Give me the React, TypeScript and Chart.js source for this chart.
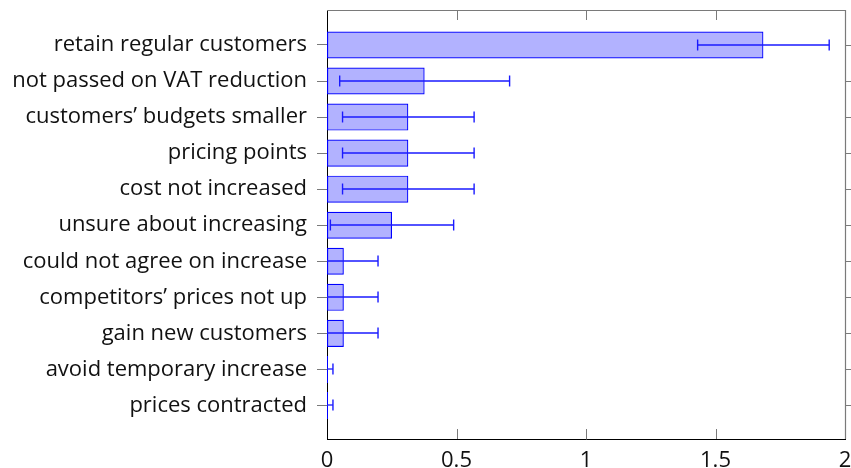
import { useEffect, useRef } from 'react';
import { Chart, registerables } from 'chart.js';

Chart.register(...registerables);

// Reasons given for not raising prices: mean score with its error margin
const categories = [
  'retain regular customers',
  'not passed on VAT reduction',
  'customers’ budgets smaller',
  'pricing points',
  'cost not increased',
  'unsure about increasing',
  'could not agree on increase',
  'competitors’ prices not up',
  'gain new customers',
  'avoid temporary increase',
  'prices contracted',
];
const means = [1.685, 0.377, 0.314, 0.314, 0.314, 0.251, 0.065, 0.065, 0.065, 0, 0];
const errors = [0.254, 0.328, 0.254, 0.254, 0.254, 0.238, 0.132, 0.132, 0.132, 0.023, 0.023];
const xTickValues = [0, 0.5, 1, 1.5, 2];
const xTickLabels = ['0', '0.5', '1', '1.5', '2'];

const FONT_FAMILY = "'Open Sans', 'Noto Sans', sans-serif";
const FONT_SIZE = 22;
const BLUE = '#0000ff';
const ERROR_BLUE = '#1a1aff';
const FRAME_GREY = '#7a7a7a';
const TEXT = '#111111';

// Horizontal error bars with end caps, clipped to the plot area
const errorBarPlugin = {
  id: 'errorBars',
  afterDatasetsDraw(chart: any) {
    const { ctx, chartArea, scales } = chart;
    const x = scales.x;
    const y = scales.y;
    ctx.save();
    ctx.beginPath();
    ctx.rect(chartArea.left, chartArea.top, chartArea.right - chartArea.left, chartArea.bottom - chartArea.top);
    ctx.clip();
    ctx.strokeStyle = ERROR_BLUE;
    means.forEach((m, i) => {
      const py = Math.round(y.getPixelForValue(i));
      const lo = x.getPixelForValue(m - errors[i]);
      const hi = x.getPixelForValue(m + errors[i]);
      ctx.lineWidth = 1.3;
      ctx.beginPath();
      ctx.moveTo(lo, py);
      ctx.lineTo(hi, py);
      ctx.stroke();
      ctx.lineWidth = 1.4;
      [lo, hi].forEach((px) => {
        ctx.beginPath();
        ctx.moveTo(px, py - 5.5);
        ctx.lineTo(px, py + 5.5);
        ctx.stroke();
      });
    });
    ctx.restore();
  },
};

// Top and right frame lines plus the mirrored tick marks
const framePlugin = {
  id: 'frame',
  afterDraw(chart: any) {
    const { ctx, chartArea, scales } = chart;
    const x = scales.x;
    const y = scales.y;
    const { left, right, top, bottom } = chartArea;
    ctx.save();
    ctx.strokeStyle = FRAME_GREY;
    ctx.lineWidth = 1.2;
    ctx.beginPath();
    ctx.moveTo(left, top + 0.5);
    ctx.lineTo(right + 0.5, top + 0.5);
    ctx.lineTo(right + 0.5, bottom);
    ctx.stroke();
    ctx.lineWidth = 1;
    // inward ticks on top and bottom edges
    xTickValues.forEach((v) => {
      if (v === xTickValues[0] || v === xTickValues[xTickValues.length - 1]) return;
      const px = Math.round(x.getPixelForValue(v)) + 0.5;
      ctx.beginPath();
      ctx.moveTo(px, top);
      ctx.lineTo(px, top + 10);
      ctx.moveTo(px, bottom);
      ctx.lineTo(px, bottom - 10);
      ctx.stroke();
    });
    // outward ticks on the right edge
    categories.forEach((_, i) => {
      const py = Math.round(y.getPixelForValue(i)) + 0.5;
      ctx.beginPath();
      ctx.moveTo(right, py);
      ctx.lineTo(right + 10, py);
      ctx.stroke();
    });
    ctx.restore();
  },
};

export default function App() {
  const canvasRef = useRef<HTMLCanvasElement | null>(null);

  useEffect(() => {
    const canvas = canvasRef.current;
    if (!canvas) return;
    const font = { family: FONT_FAMILY, size: FONT_SIZE };
    const chart = new Chart(canvas, {
      type: 'bar',
      data: {
        datasets: [
          {
            data: means.map((v, i) => ({ x: v, y: i })),
            backgroundColor: 'rgba(0,0,255,0.3)',
            borderColor: BLUE,
            borderWidth: 1.2,
            borderSkipped: false,
            categoryPercentage: 0.75,
            barPercentage: 1,
            minBarLength: 1,
          },
        ],
      },
      options: {
        indexAxis: 'y',
        animation: false,
        responsive: false,
        layout: { padding: { top: 10, right: 6, left: 0, bottom: 0 } },
        plugins: {
          legend: { display: false },
          tooltip: { enabled: false },
          title: { display: false },
        },
        scales: {
          x: {
            type: 'linear',
            position: 'bottom',
            min: 0,
            max: 2,
            offset: false,
            afterBuildTicks: (s: any) => {
              s.ticks = xTickValues.map((v) => ({ value: v }));
            },
            afterFit: (s: any) => {
              s.height = 29;
              s.paddingLeft = 0;
              s.paddingRight = 0;
            },
            ticks: {
              font,
              color: TEXT,
              padding: 1,
              autoSkip: false,
              maxRotation: 0,
              callback: (v: any) => xTickLabels[xTickValues.indexOf(Number(v))] ?? '',
            },
            grid: { display: false, offset: false },
            border: { display: true, color: '#000000', width: 1 },
          },
          y: {
            type: 'linear',
            position: 'left',
            reverse: true,
            offset: false,
            min: -0.97,
            max: 10.93,
            afterBuildTicks: (s: any) => {
              s.ticks = categories.map((_, i) => ({ value: i }));
            },
            afterFit: (s: any) => {
              s.width = 327;
              s.paddingTop = 0;
              s.paddingBottom = 0;
            },
            ticks: {
              font,
              color: TEXT,
              padding: 10,
              autoSkip: false,
              callback: (v: any) => categories[Number(v)] ?? '',
            },
            grid: {
              offset: false,
              drawOnChartArea: false,
              drawTicks: true,
              tickLength: 10,
              tickColor: FRAME_GREY,
              tickWidth: 1,
            },
            border: { display: true, color: '#000000', width: 1 },
          },
        },
      },
      plugins: [errorBarPlugin, framePlugin],
    });
    return () => chart.destroy();
  }, []);

  return (
    <div style={{ position: 'fixed', left: 0, top: 0, width: 851, height: 468, background: '#ffffff' }}>
      <canvas ref={canvasRef} width={851} height={468} style={{ display: 'block' }} />
    </div>
  );
}
